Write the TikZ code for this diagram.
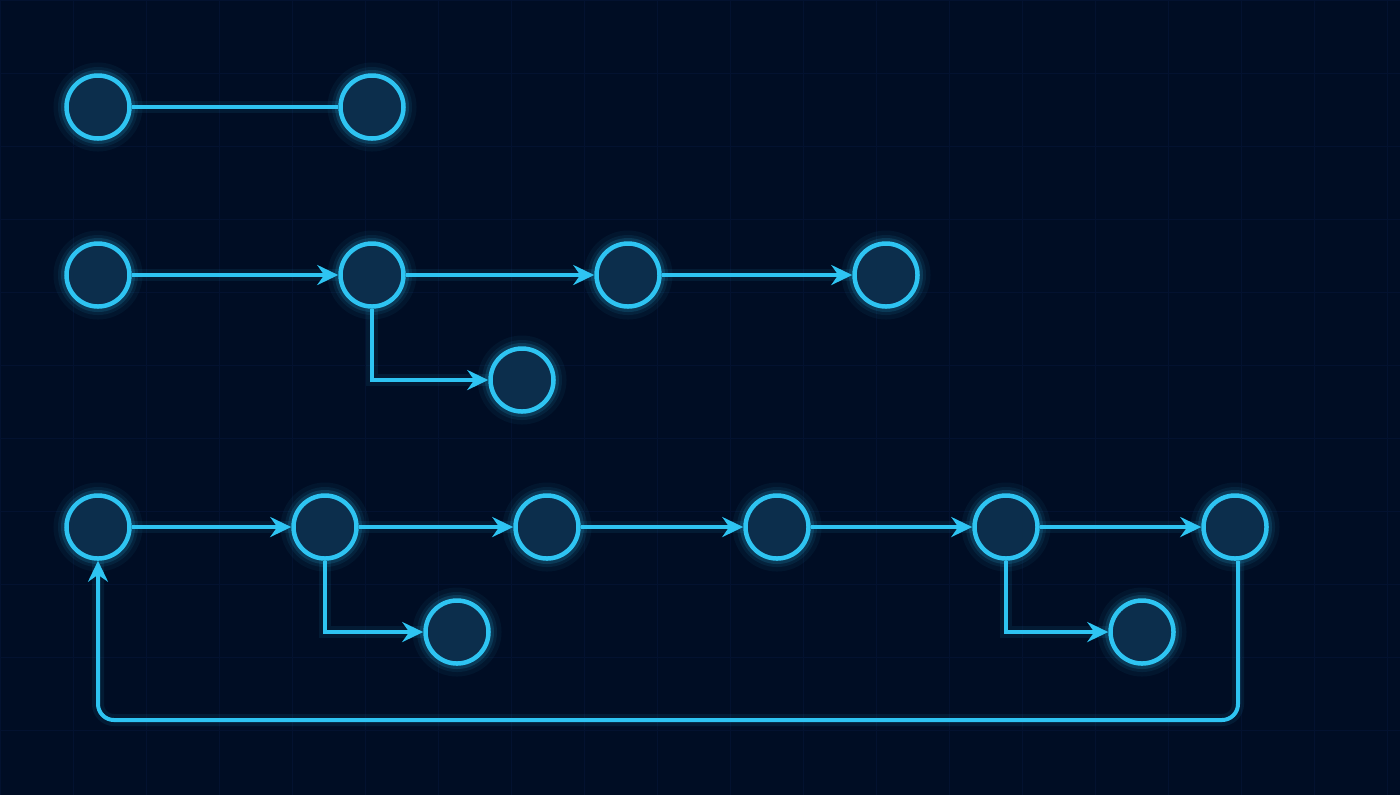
\documentclass[tikz,border=0pt]{standalone}
\usetikzlibrary{arrows.meta}
\definecolor{bgc}{HTML}{000D24}
\definecolor{gridc}{HTML}{031230}
\definecolor{cy}{HTML}{2EC4F2}
\definecolor{fillc}{HTML}{0C2E4C}
\tikzset{
  vtx/.style={circle, minimum size=6.3mm, inner sep=0pt, draw=cy, line width=0.45mm, fill=fillc,
    preaction={draw=cy, line width=2.6mm, opacity=0.05},
    preaction={draw=cy, line width=1.7mm, opacity=0.08},
    preaction={draw=cy, line width=1.1mm, opacity=0.15}},
  link/.style={draw=cy, line width=0.4mm, rounded corners=1.6mm,
    preaction={-, draw=cy, line width=1.2mm, opacity=0.08}},
  arr/.style={link, -{Stealth[length=2.1mm, width=2.0mm, inset=0.7mm]}}
}
\begin{document}
\begin{tikzpicture}[x=0.1mm, y=-0.1mm]
\fill[bgc] (0,0) rectangle (1400,795);
\useasboundingbox (0,0) rectangle (1400,795);
\foreach \gx in {0,73,...,1400} \draw[gridc, line width=0.1mm] (\gx,0) -- (\gx,795);
\foreach \gy in {0,73,...,795} \draw[gridc, line width=0.1mm] (0,\gy) -- (1400,\gy);
% row 1
\node[vtx] (a1) at (98,107) {};
\node[vtx] (a2) at (372,107) {};
\draw[link] (a1) -- (a2);
% row 2
\node[vtx] (b1) at (98,275) {};
\node[vtx] (b2) at (372,275) {};
\node[vtx] (b3) at (628,275) {};
\node[vtx] (b4) at (886,275) {};
\node[vtx] (b5) at (522,380) {};
\draw[arr] (b1) -- (b2);
\draw[arr] (b2) -- (b3);
\draw[arr] (b3) -- (b4);
\draw[arr, rounded corners=0pt] (b2.south) |- (b5);
% row 3
\node[vtx] (c1) at (98,527) {};
\node[vtx] (c2) at (325,527) {};
\node[vtx] (c3) at (547,527) {};
\node[vtx] (c4) at (777,527) {};
\node[vtx] (c5) at (1006,527) {};
\node[vtx] (c6) at (1235,527) {};
\node[vtx] (c7) at (457,632) {};
\node[vtx] (c8) at (1142,632) {};
\coordinate (lpr) at (1238,720);
\coordinate (lpl) at (98,720);
\draw[arr] (c1) -- (c2);
\draw[arr] (c2) -- (c3);
\draw[arr] (c3) -- (c4);
\draw[arr] (c4) -- (c5);
\draw[arr] (c5) -- (c6);
\draw[arr, rounded corners=0pt] (c2.south) |- (c7);
\draw[arr, rounded corners=0pt] (c5.south) |- (c8);
\draw[arr] (c6.south -| lpr) -- (lpr) -- (lpl) -- (c1.south);
\end{tikzpicture}
\end{document}
